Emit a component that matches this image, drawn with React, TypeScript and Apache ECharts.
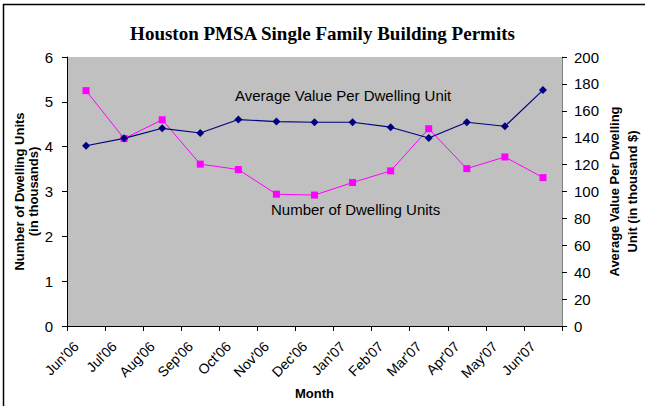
import React, { useEffect, useRef } from "react";
import * as echarts from "echarts";

const months = ["Jun'06", "Jul'06", "Aug'06", "Sep'06", "Oct'06", "Nov'06", "Dec'06", "Jan'07", "Feb'07", "Mar'07", "Apr'07", "May'07", "Jun'07"];
const dwellingUnits = [5.25, 4.18, 4.6, 3.61, 3.49, 2.94, 2.92, 3.2, 3.46, 4.4, 3.51, 3.77, 3.31];
const avgValue = [134, 139.5, 147, 143.5, 153.5, 152, 151.5, 151.5, 147.8, 139.8, 151.5, 148.5, 175.4];
const leftTicks = { min: 0, max: 6, interval: 1 };
const rightTicks = { min: 0, max: 200, interval: 20 };

export default function App() {
  const ref = useRef<HTMLDivElement>(null);
  useEffect(() => {
    const chart = echarts.init(ref.current!, null, { renderer: "svg" });
    const sans = "'Liberation Sans', Arial, sans-serif";
    chart.setOption({
      animation: false,
      backgroundColor: "#ffffff",
      title: {
        text: "Houston PMSA Single Family Building Permits",
        left: "center",
        top: 19,
        textStyle: { fontFamily: "'Liberation Serif', 'Times New Roman', serif", fontSize: 19, fontWeight: "bold", color: "#000" },
      },
      grid: {
        left: 67, right: 83, top: 57, bottom: 80,
        containLabel: false, outerBoundsMode: "none",
        show: true, backgroundColor: "#c0c0c0", borderColor: "#c0c0c0", borderWidth: 0,
      },
      xAxis: {
        type: "category",
        data: months,
        boundaryGap: true,
        name: "Month",
        nameLocation: "middle",
        nameGap: 61,
        nameMoveOverlap: false,
        nameTextStyle: { fontFamily: sans, fontSize: 13, fontWeight: "bold", color: "#000" },
        axisLine: { lineStyle: { color: "#000", width: 1 } },
        axisTick: { show: true, alignWithLabel: false, length: 5, lineStyle: { color: "#000" } },
        axisLabel: { rotate: 45, interval: 0, fontFamily: sans, fontSize: 14, color: "#000", margin: 8, padding: [0, 14, 7, 0] },
        splitLine: { show: false },
      },
      yAxis: [
        {
          type: "value",
          ...leftTicks,
          position: "left",
          name: "Number of Dwelling Units\n(in thousands)",
          nameLocation: "middle",
          nameGap: 27,
          nameMoveOverlap: false,
          nameRotate: 90,
          nameTextStyle: { fontFamily: sans, fontSize: 13, fontWeight: "bold", color: "#000", lineHeight: 14, align: "center" },
          axisLine: { show: true, lineStyle: { color: "#000", width: 1 } },
          axisTick: { show: true, length: 5, lineStyle: { color: "#000" } },
          axisLabel: { fontFamily: sans, fontSize: 15, color: "#000", margin: 14 },
          splitLine: { show: false },
        },
        {
          type: "value",
          ...rightTicks,
          position: "right",
          name: "Average Value Per Dwelling\nUnit (in thousand $)",
          nameLocation: "middle",
          nameGap: 43,
          nameMoveOverlap: false,
          nameRotate: 90,
          nameTextStyle: { fontFamily: sans, fontSize: 13, fontWeight: "bold", color: "#000", lineHeight: 18, align: "center" },
          axisLine: { show: true, lineStyle: { color: "#808080", width: 1 } },
          axisTick: { show: true, length: 5, lineStyle: { color: "#000" } },
          axisLabel: { fontFamily: sans, fontSize: 15, color: "#000", margin: 12 },
          splitLine: { show: false },
        },
      ],
      series: [
        {
          name: "Number of Dwelling Units",
          type: "line",
          yAxisIndex: 0,
          data: dwellingUnits,
          symbol: "rect",
          symbolSize: 7,
          itemStyle: { color: "#ff00ff" },
          lineStyle: { color: "#ff00ff", width: 1 },
        },
        {
          name: "Average Value Per Dwelling Unit",
          type: "line",
          yAxisIndex: 1,
          data: avgValue,
          symbol: "diamond",
          symbolSize: 8,
          itemStyle: { color: "#000080" },
          lineStyle: { color: "#000080", width: 1.2 },
        },
      ],
      graphic: [
        { type: "text", left: 235, top: 88, style: { text: "Average Value Per Dwelling Unit", fontFamily: sans, fontSize: 15, fill: "#000" } },
        { type: "text", left: 271, top: 202, style: { text: "Number of Dwelling Units", fontFamily: sans, fontSize: 15, fill: "#000" } },
        { type: "line", shape: { x1: 3.5, y1: 4, x2: 3.5, y2: 406 }, style: { stroke: "#000", lineWidth: 1.5 } },
        { type: "line", shape: { x1: 3, y1: 4.5, x2: 645, y2: 4.5 }, style: { stroke: "#000", lineWidth: 1.5 } },
      ],
    });
    return () => chart.dispose();
  }, []);
  return <div ref={ref} style={{ width: 645, height: 406, position: "absolute", left: 0, top: 0 }} />;
}
